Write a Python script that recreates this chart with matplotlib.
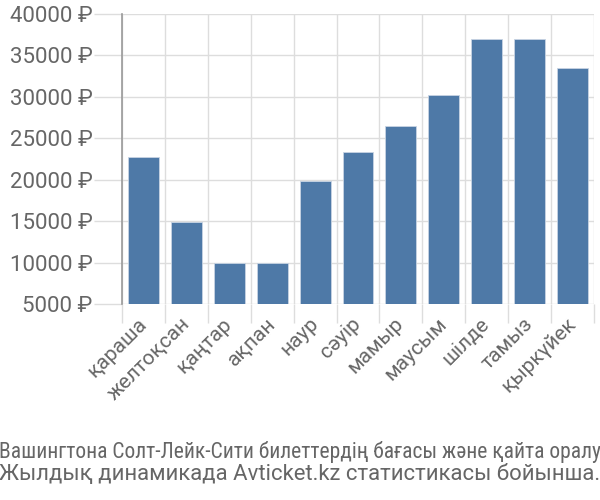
import matplotlib
matplotlib.use("Agg")
import matplotlib.pyplot as plt
import numpy as np

months = ["қараша", "желтоқсан", "қаңтар", "ақпан", "наур", "сәуір",
          "мамыр", "маусым", "шілде", "тамыз", "қыркүйек"]
prices = [22800, 14900, 9950, 9950, 19850, 23300, 26450, 30200, 36950, 36950, 33500]
yticks = [5000, 10000, 15000, 20000, 25000, 30000, 35000, 40000]
ytick_labels = [f"{v} ₽" for v in yticks]
title1 = "Вашингтона Солт-Лейк-Сити билеттердің бағасы және қайта оралу"
title2 = "Жылдық динамикада Avticket.kz статистикасы бойынша."

plt.rcParams['font.family'] = ['Roboto', 'DejaVu Sans']
txt = '#666666'

fig = plt.figure(figsize=(6, 5), dpi=100)
ax = fig.add_axes([122/600, 1-304/500, (594-122)/600, (304-14)/500])

x = np.arange(len(months))
ax.bar(x, prices, width=0.72, color='#4e79a7', edgecolor='#c8d4e3', linewidth=0.6, zorder=3)
ax.set_ylim(5000, 40000)
ax.set_xlim(-0.5, len(months) - 0.5)

ax.set_yticks(yticks)
ax.set_yticklabels(ytick_labels, fontsize=16, color=txt)
ax.set_xticks(x)
ax.set_xticklabels(months, rotation=45, ha='right', va='center', rotation_mode='anchor', fontsize=15, color=txt)
ax.set_xticks(np.arange(-0.5, len(months)), minor=True)
ax.tick_params(axis='x', which='major', length=0, pad=12)
ax.tick_params(axis='x', which='minor', length=14, color='#dddddd', width=1)
ax.tick_params(axis='y', length=20, color='#dddddd', width=1, pad=1)
ax.grid(True, axis='y', color='#dddddd', linewidth=1, zorder=0)
ax.grid(True, axis='x', which='minor', color='#dddddd', linewidth=1, zorder=0)
for s in ['top', 'right', 'bottom']:
    ax.spines[s].set_visible(False)
ax.spines['left'].set_color('#999999')
ax.spines['left'].set_linewidth(1.2)
ax.spines['left'].set_bounds(5000, 40000)

fig.text(0.5, 1-452/500, title1, ha='center', va='center', fontsize=15.5, color=txt,
         family=['Roboto Condensed', 'DejaVu Sans Condensed', 'DejaVu Sans'])
fig.text(0.5, 1-475/500, title2, ha='center', va='center', fontsize=15.9, color=txt)

fig.savefig("out.png", dpi=100)
